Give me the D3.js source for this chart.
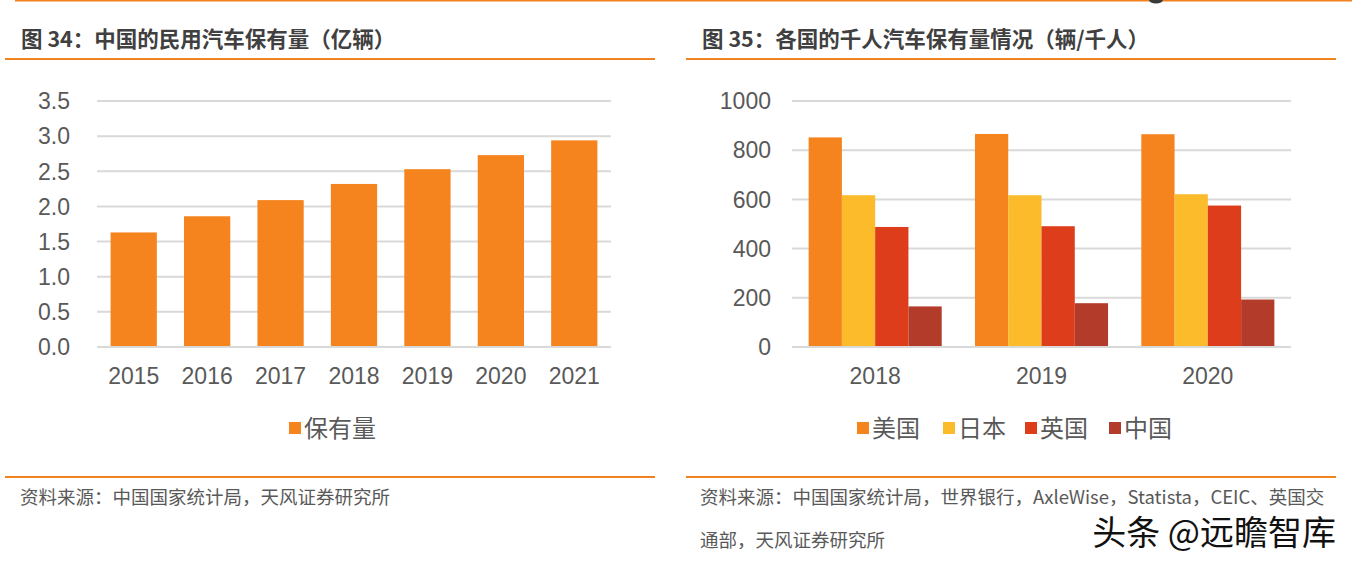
<!DOCTYPE html>
<html><head><meta charset="utf-8">
<script src="https://cdn.jsdelivr.net/npm/d3@7/dist/d3.min.js"></script>
<style>
html,body{margin:0;padding:0;background:#fff;}
svg{display:block;}
</style></head>
<body>
<script>
// ---- data ----
const leftTitle = "图 34：中国的民用汽车保有量（亿辆）";
const rightTitle = "图 35：各国的千人汽车保有量情况（辆/千人）";
const years = ["2015","2016","2017","2018","2019","2020","2021"];
const ownership = [1.63, 1.86, 2.09, 2.32, 2.53, 2.73, 2.94];
const leftTicks = [0, 0.5, 1.0, 1.5, 2.0, 2.5, 3.0, 3.5];
const leftSeriesName = "保有量";

const groups = ["2018","2019","2020"];
const countries = ["美国","日本","英国","中国"];
const usa   = [852, 866, 865];
const japan = [617, 617, 621];
const uk    = [488, 491, 575];
const china = [165, 178, 193];
const rightTicks = [0, 200, 400, 600, 800, 1000];

const leftSource = "资料来源：中国国家统计局，天风证券研究所";
const rightSource1 = "资料来源：中国国家统计局，世界银行，AxleWise，Statista，CEIC、英国交";
const rightSource2 = "通部，天风证券研究所";
const watermark = "头条 @远瞻智库";

// ---- styles ----
const W = 1352, H = 564;
const ORANGE_RULE = "#F0821F";
const GRID = "#D9D9D9";
const TXT = "#595959";
const colors = ["#F5841F","#FBBB2B","#DE3D1B","#B33B2A"];
const FONT = "'Liberation Sans', Arial, 'Noto Sans CJK SC', sans-serif";
const CJK = "'Noto Sans CJK SC', 'Liberation Sans', sans-serif";

const svg = d3.select("body").append("svg").attr("width", W).attr("height", H);

// top rule
svg.append("line").attr("x1", 15).attr("x2", W).attr("y1", 0.75).attr("y2", 0.75)
  .attr("stroke", ORANGE_RULE).attr("stroke-width", 1.5);
svg.append("ellipse").attr("cx", 1156).attr("cy", 0).attr("rx", 7).attr("ry", 3.5).attr("fill", "#3a3a3a");

function header(x0, x1, title) {
  svg.append("text").attr("x", x0 + 16).attr("y", 47)
    .attr("font-family", CJK).attr("font-weight", "bold").attr("font-size", 21.5)
    .attr("fill", "#404040").text(title);
  svg.append("line").attr("x1", x0).attr("x2", x1).attr("y1", 59).attr("y2", 59)
    .attr("stroke", ORANGE_RULE).attr("stroke-width", 2);
  svg.append("line").attr("x1", x0).attr("x2", x1).attr("y1", 477).attr("y2", 477)
    .attr("stroke", ORANGE_RULE).attr("stroke-width", 2);
}
header(5, 655, leftTitle);
header(686, 1336, rightTitle);

// ---- left chart ----
const yL = d3.scaleLinear().domain([0, 3.5]).range([347, 101]);
const xL = d3.scaleBand().domain(years).range([97, 611]).paddingInner(0.37).paddingOuter(0.185);
const gL = svg.append("g");
gL.selectAll("line.grid").data(leftTicks).join("line")
  .attr("x1", 97).attr("x2", 611)
  .attr("y1", d => yL(d)).attr("y2", d => yL(d))
  .attr("stroke", GRID).attr("stroke-width", 2);
gL.selectAll("text.yt").data(leftTicks).join("text")
  .attr("x", 70).attr("y", d => yL(d)).attr("dy", "0.36em")
  .attr("text-anchor", "end").attr("font-family", FONT).attr("font-size", 23).attr("fill", TXT)
  .text(d => d3.format(".1f")(d));
gL.selectAll("rect").data(ownership).join("rect")
  .attr("x", (d, i) => xL(years[i])).attr("width", xL.bandwidth())
  .attr("y", d => yL(d)).attr("height", d => yL(0) - yL(d) - 1)
  .attr("fill", colors[0]);
gL.selectAll("text.xt").data(years).join("text")
  .attr("x", d => xL(d) + xL.bandwidth() / 2).attr("y", 376).attr("dy", "0.36em")
  .attr("text-anchor", "middle").attr("font-family", FONT).attr("font-size", 23).attr("fill", TXT)
  .text(d => d);
// legend left
gL.append("rect").attr("x", 289).attr("y", 422).attr("width", 12).attr("height", 12).attr("fill", colors[0]);
gL.append("text").attr("x", 304).attr("y", 428).attr("dy", "0.36em")
  .attr("font-family", CJK).attr("font-size", 24).attr("fill", TXT).text(leftSeriesName);

// ---- right chart ----
const series = [usa, japan, uk, china];
const yR = d3.scaleLinear().domain([0, 1000]).range([347, 101]);
const x0 = d3.scaleBand().domain(groups).range([792, 1291]).paddingInner(0.2).paddingOuter(0.1);
const x1 = d3.scaleBand().domain(countries).range([0, x0.bandwidth()]).padding(0);
const gR = svg.append("g");
gR.selectAll("line.grid").data(rightTicks).join("line")
  .attr("x1", 792).attr("x2", 1291)
  .attr("y1", d => yR(d)).attr("y2", d => yR(d))
  .attr("stroke", GRID).attr("stroke-width", 2);
gR.selectAll("text.yt").data(rightTicks).join("text")
  .attr("x", 771).attr("y", d => yR(d)).attr("dy", "0.36em")
  .attr("text-anchor", "end").attr("font-family", FONT).attr("font-size", 23).attr("fill", TXT)
  .text(d => d);
const cells = [];
groups.forEach((g, gi) => countries.forEach((c, ci) => cells.push({g, c, ci, v: series[ci][gi]})));
gR.selectAll("rect").data(cells).join("rect")
  .attr("x", d => x0(d.g) + x1(d.c)).attr("width", x1.bandwidth())
  .attr("y", d => yR(d.v)).attr("height", d => yR(0) - yR(d.v) - 1)
  .attr("fill", d => colors[d.ci]);
gR.selectAll("text.xt").data(groups).join("text")
  .attr("x", d => x0(d) + x0.bandwidth() / 2).attr("y", 376).attr("dy", "0.36em")
  .attr("text-anchor", "middle").attr("font-family", FONT).attr("font-size", 23).attr("fill", TXT)
  .text(d => d);
// legend right
const legX = [857, 943, 1025, 1109];
countries.forEach((c, i) => {
  gR.append("rect").attr("x", legX[i]).attr("y", 422).attr("width", 12).attr("height", 12).attr("fill", colors[i]);
  gR.append("text").attr("x", legX[i] + 15).attr("y", 428).attr("dy", "0.36em")
    .attr("font-family", CJK).attr("font-size", 24).attr("fill", TXT).text(c);
});

// ---- sources ----
svg.append("text").attr("x", 20).attr("y", 504).attr("font-family", CJK).attr("font-size", 18.5)
  .attr("fill", TXT).text(leftSource);
svg.append("text").attr("x", 700).attr("y", 504).attr("font-family", CJK).attr("font-size", 18.5)
  .attr("fill", TXT).text(rightSource1);
svg.append("text").attr("x", 700).attr("y", 547).attr("font-family", CJK).attr("font-size", 18.5)
  .attr("fill", TXT).text(rightSource2);

// watermark
svg.append("text").attr("x", 1336).attr("y", 545).attr("text-anchor", "end")
  .attr("font-family", CJK).attr("font-size", 34).attr("fill", "#111")
  .attr("stroke", "#fff").attr("stroke-width", 3).attr("paint-order", "stroke")
  .text(watermark);
</script>
</body></html>
